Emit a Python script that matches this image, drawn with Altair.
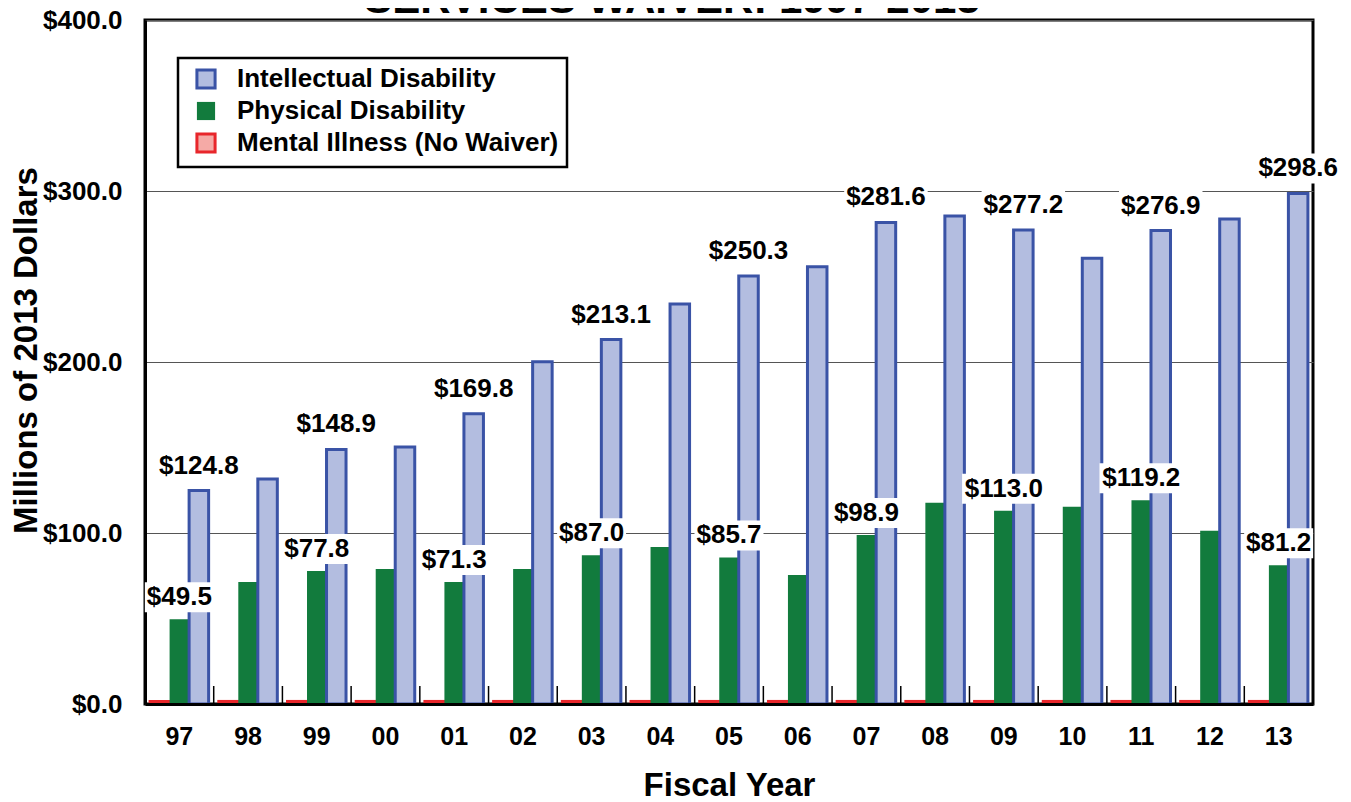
import altair as alt
import pandas as pd

years = ["97", "98", "99", "00", "01", "02", "03", "04", "05", "06",
         "07", "08", "09", "10", "11", "12", "13"]
intellectual = [124.8, 131.6, 148.9, 150.3, 169.8, 200.2, 213.1, 233.9, 250.3,
                255.7, 281.6, 285.4, 277.2, 260.6, 276.9, 283.6, 298.6]
physical = [49.5, 71.3, 77.8, 79.0, 71.3, 79.0, 87.0, 91.8, 85.7,
            75.4, 98.9, 117.7, 113.0, 115.4, 119.2, 101.3, 81.2]
mental = [1.5, 1.5, 1.5, 1.5, 1.5, 1.5, 1.5, 1.5, 1.5,
          1.5, 1.5, 1.5, 1.5, 1.5, 1.5, 1.5, 1.5]
intellectual_labels = ["$124.8", "", "$148.9", "", "$169.8", "", "$213.1", "", "$250.3",
                       "", "$281.6", "", "$277.2", "", "$276.9", "", "$298.6"]
physical_labels = ["$49.5", "", "$77.8", "", "$71.3", "", "$87.0", "", "$85.7",
                   "", "$98.9", "", "$113.0", "", "$119.2", "", "$81.2"]

S_ID = "Intellectual Disability"
S_PD = "Physical Disability"
S_MI = "Mental Illness (No Waiver)"
legend_order = [S_ID, S_PD, S_MI]
bar_order = [S_MI, S_PD, S_ID]

title_text = "SERVICES WAIVER: 1997-2013"
y_title = "Millions of 2013 Dollars"
x_title = "Fiscal Year"

rows = []
for i, yr in enumerate(years):
    rows.append({"year": yr, "series": S_MI, "value": mental[i], "label": ""})
    rows.append({"year": yr, "series": S_PD, "value": physical[i], "label": physical_labels[i]})
    rows.append({"year": yr, "series": S_ID, "value": intellectual[i], "label": intellectual_labels[i]})
df = pd.DataFrame(rows)

FONT = "Liberation Sans"
W, H = 1168, 684

xscale = alt.Scale(domain=years, paddingInner=0.148, paddingOuter=0.074)
yscale = alt.Scale(domain=[0, 400], nice=False)
xoff = alt.XOffset("series:N", scale=alt.Scale(domain=bar_order))

X = alt.X("year:N", scale=xscale, sort=years,
          axis=alt.Axis(labelAngle=0, labelFontSize=25, labelFont=FONT,
                        labelFontWeight="bold", labelColor="black", labelPadding=20,
                        ticks=False, domainColor="black", domainWidth=3, grid=False,
                        title=x_title, titleFont=FONT, titleFontSize=33,
                        titleFontWeight="bold", titleColor="black",
                        titleY=81, titleBaseline="middle", zindex=1))
Xplain = alt.X("year:N", scale=xscale, sort=years)
Y = alt.Y("value:Q", scale=yscale,
          axis=alt.Axis(values=[0, 100, 200, 300, 400], format="$.1f",
                        labelFontSize=26, labelFont=FONT, labelFontWeight="bold",
                        labelColor="black", labelPadding=23, ticks=False,
                        domainColor="black", domainWidth=3,
                        grid=True, gridColor="#555555", gridWidth=1,
                        title=y_title, titleFont=FONT, titleFontSize=33,
                        titleFontWeight="bold", titleColor="black",
                        titleAngle=270, titleX=-119, titleY=330,
                        titleAlign="center", titleBaseline="middle"))
Yplain = alt.Y("value:Q", scale=yscale)

fill_scale = alt.Scale(domain=legend_order, range=["#b3bde0", "#127b3d", "#f5aaa6"])
stroke_scale = alt.Scale(domain=legend_order, range=["#3a53a6", "transparent", "#e8262b"])
leg = alt.Legend(title=None, orient="none", legendX=33, legendY=38,
                 symbolType="square", symbolSize=330, symbolStrokeWidth=3,
                 labelFont=FONT, labelFontSize=26, labelFontWeight="bold",
                 labelColor="black", labelOffset=18, symbolOffset=7, labelLimit=0,
                 padding=8, rowPadding=0, fillColor="white", strokeColor="black")

bars = alt.Chart(df).mark_bar(strokeWidth=3).encode(
    x=X, xOffset=xoff, y=Y,
    fill=alt.Fill("series:N", scale=fill_scale, legend=leg),
    stroke=alt.Stroke("series:N", scale=stroke_scale, legend=leg),
)

# group separators: from band centre, half band plus half the inner padding to the left
ticks = alt.Chart(pd.DataFrame({"year": years[1:]})).mark_rule(
    color="black", strokeWidth=1.5, xOffset=-34.35, y2Offset=-18
).encode(
    x=Xplain,
    y=alt.datum(0), y2=alt.datum(0),
)


def label_layer(series_name, off):
    base = alt.Chart(df).transform_filter(
        (alt.datum.series == series_name) & (alt.datum.label != "")
    ).transform_calculate(
        w="(length(datum.label) - 1) * 14.5 + 11",
    ).transform_calculate(
        shp="'M-1,' + (-30 / datum.w) + 'H1V' + (30 / datum.w) + 'H-1Z'",
        sz="datum.w * datum.w",
    )
    box = base.mark_point(filled=True, fill="white", opacity=1, strokeWidth=0,
                          yOffset=off).encode(
        x=Xplain, xOffset=xoff, y=Yplain,
        shape=alt.Shape("shp:N", scale=None, legend=None),
        size=alt.Size("sz:Q", scale=None, legend=None),
    )
    txt = base.mark_text(font=FONT, fontSize=26, fontWeight="bold", color="black",
                         baseline="middle", align="center", yOffset=off).encode(
        x=Xplain, xOffset=xoff, y=Yplain,
        text="label:N",
    )
    return box + txt


title = alt.Chart(pd.DataFrame({"t": [title_text]})).mark_text(
    font=FONT, fontSize=42, fontWeight="bold", color="black",
    baseline="alphabetic", align="center"
).encode(x=alt.value(527), y=alt.value(-7), text="t:N")

chart = alt.layer(
    bars, ticks, label_layer(S_PD, -22), label_layer(S_ID, -25), title
).properties(
    width=W, height=H,
    autosize=alt.AutoSizeParams(type="none"),
    padding={"left": 137, "top": 12, "right": 28, "bottom": 96},
).configure_view(
    stroke="black", strokeWidth=3
).configure_legend(
    strokeWidth=2.5
)

chart.save("out.html", embed_options={"renderer": "svg", "actions": False})
